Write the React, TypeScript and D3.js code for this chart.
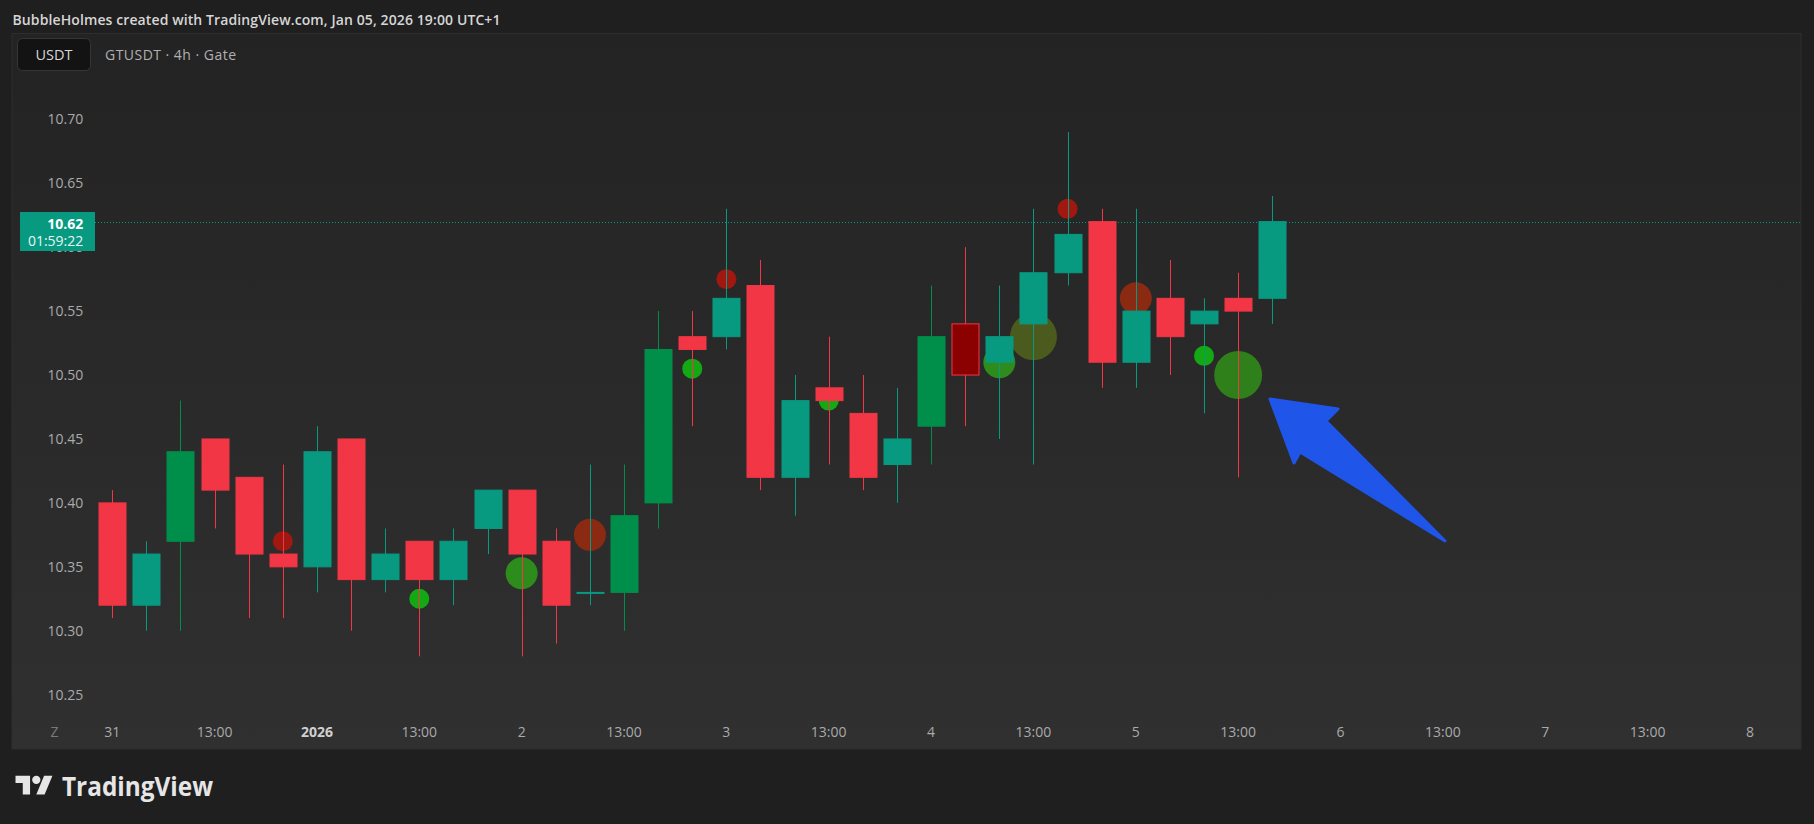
import { useRef, useEffect } from 'react';
import * as d3 from 'd3';

// GTUSDT 4h bars, Dec 31 01:00 .. Jan 5 17:00 (UTC+1)
const opens = [10.40, 10.32, 10.37, 10.45, 10.42, 10.36, 10.35, 10.45, 10.34, 10.37, 10.34, 10.38, 10.41, 10.37, 10.33, 10.33, 10.40, 10.53, 10.53, 10.57, 10.42, 10.49, 10.47, 10.43, 10.46, 10.54, 10.51, 10.54, 10.58, 10.62, 10.51, 10.56, 10.54, 10.56, 10.56];
const highs = [10.41, 10.37, 10.48, 10.45, 10.42, 10.43, 10.46, 10.45, 10.38, 10.37, 10.38, 10.41, 10.41, 10.38, 10.43, 10.43, 10.55, 10.55, 10.63, 10.59, 10.50, 10.53, 10.50, 10.49, 10.57, 10.60, 10.57, 10.63, 10.69, 10.63, 10.63, 10.59, 10.56, 10.58, 10.64];
const lows = [10.31, 10.30, 10.30, 10.38, 10.31, 10.31, 10.33, 10.30, 10.33, 10.28, 10.32, 10.36, 10.28, 10.29, 10.32, 10.30, 10.38, 10.46, 10.52, 10.41, 10.39, 10.43, 10.41, 10.40, 10.43, 10.46, 10.45, 10.43, 10.57, 10.49, 10.49, 10.50, 10.47, 10.42, 10.54];
const closes = [10.32, 10.36, 10.44, 10.41, 10.36, 10.35, 10.44, 10.34, 10.36, 10.34, 10.37, 10.41, 10.36, 10.32, 10.33, 10.39, 10.52, 10.52, 10.56, 10.42, 10.48, 10.48, 10.42, 10.45, 10.53, 10.50, 10.53, 10.58, 10.61, 10.51, 10.55, 10.53, 10.55, 10.55, 10.62];
// bars painted by the indicator as "strong"
const strongBars = [2, 15, 16, 24, 25];

// volume bubbles
const bubbleBars = [5, 9, 12, 14, 17, 18, 21, 26, 27, 28, 30, 32, 33];
const bubblePrices = [10.37, 10.325, 10.345, 10.375, 10.505, 10.575, 10.48, 10.51, 10.53, 10.63, 10.56, 10.515, 10.50];
const bubbleVolumes = [100, 100, 256, 256, 100, 100, 100, 256, 552, 100, 256, 100, 576];
const bubbleSides = ['sell', 'buy', 'buy', 'sell', 'buy', 'sell', 'buy', 'buy', 'mixed', 'sell', 'sell', 'buy', 'buy'];

const priceTicks = [10.25, 10.30, 10.35, 10.40, 10.45, 10.50, 10.55, 10.60, 10.65, 10.70];
const timeTickBars = [0, 3, 6, 9, 12, 15, 18, 21, 24, 27, 30, 33, 36, 39, 42, 45, 48];
const timeTickLabels = ['31', '13:00', '2026', '13:00', '2', '13:00', '3', '13:00', '4', '13:00', '5', '13:00', '6', '13:00', '7', '13:00', '8'];

const lastPrice = 10.62;
const countdown = '01:59:22';

const W = 1814;
const H = 824;
const FONT = "'Open Sans', 'Noto Sans', sans-serif";
const UP = '#089981';
const DOWN = '#f23645';

function bubbleColor(side: string, vol: number) {
  if (side === 'mixed') return '#4b5b1d';
  if (side === 'buy') return vol > 400 ? '#2f7f1a' : vol > 200 ? '#2d8c1c' : '#15a815';
  return vol > 200 ? '#8a2a12' : '#a0180f';
}

export default function App() {
  const svgRef = useRef<SVGSVGElement>(null);

  useEffect(() => {
    const svg = d3.select(svgRef.current);
    svg.selectAll('*').remove();

    const x = d3.scaleLinear().domain([0, 34]).range([112.2, 112.2 + 34 * 34.12]);
    const y = d3.scaleLinear().domain([10.25, 10.70]).range([694.7, 119.3]);
    const r = d3.scaleSqrt().domain([0, 576]).range([0, 24]);
    const bodyW = 27;

    const defs = svg.append('defs');
    const grad = defs.append('linearGradient').attr('id', 'panelGrad').attr('x1', 0).attr('y1', 0).attr('x2', 0).attr('y2', 1);
    grad.append('stop').attr('offset', '0%').attr('stop-color', '#232323');
    grad.append('stop').attr('offset', '100%').attr('stop-color', '#303030');

    svg.append('rect').attr('width', W).attr('height', H).attr('fill', '#1f1f1f');

    // header
    svg.append('text')
      .attr('x', 12.5).attr('y', 25)
      .attr('fill', '#d6d6d6').attr('font-size', '14px').attr('font-weight', 600)
      .attr('font-family', FONT)
      .attr('textLength', 488).attr('lengthAdjust', 'spacing')
      .text('BubbleHolmes created with TradingView.com, Jan 05, 2026 19:00 UTC+1');

    // chart panel
    svg.append('rect')
      .attr('x', 12).attr('y', 33.5).attr('width', 1789).attr('height', 715.5)
      .attr('fill', 'url(#panelGrad)').attr('stroke', '#2e2e2e');

    svg.append('rect')
      .attr('x', 17.5).attr('y', 38.5).attr('width', 73).attr('height', 32).attr('rx', 5)
      .attr('fill', '#131313').attr('stroke', '#363636');
    svg.append('text')
      .attr('x', 54).attr('y', 59.5).attr('text-anchor', 'middle')
      .attr('fill', '#d6d6d6').attr('font-size', '14.5px').attr('font-weight', 500)
      .attr('font-family', FONT).text('USDT');
    svg.append('text')
      .attr('x', 105).attr('y', 59.5)
      .attr('fill', '#b0b0b0').attr('font-size', '14px')
      .attr('font-family', FONT)
      .attr('textLength', 131).attr('lengthAdjust', 'spacing')
      .text('GTUSDT · 4h · Gate');

    // price axis (left)
    svg.append('g').selectAll('text')
      .data(priceTicks)
      .join('text')
      .attr('x', 83.3)
      .attr('y', (d) => y(d) + 5)
      .attr('text-anchor', 'end')
      .attr('fill', '#aaaaaa').attr('font-size', '14px')
      .attr('font-family', FONT)
      .text((d) => d.toFixed(2));

    // time axis
    svg.append('text')
      .attr('x', 54.5).attr('y', 737).attr('text-anchor', 'middle')
      .attr('fill', '#7a7a7a').attr('font-size', '14px').attr('font-family', FONT).text('Z');
    svg.append('g').selectAll('text')
      .data(timeTickBars)
      .join('text')
      .attr('x', (d) => x(d))
      .attr('y', 737)
      .attr('text-anchor', 'middle')
      .attr('fill', (_d, i) => (timeTickLabels[i] === '2026' ? '#d0d0d0' : '#aaaaaa'))
      .attr('font-weight', (_d, i) => (timeTickLabels[i] === '2026' ? 700 : 400))
      .attr('font-size', '14px')
      .attr('font-family', FONT)
      .text((_d, i) => timeTickLabels[i]);

    // last price line
    svg.append('line')
      .attr('x1', 95).attr('x2', 1801)
      .attr('y1', Math.round(y(lastPrice)) + 0.5).attr('y2', Math.round(y(lastPrice)) + 0.5)
      .attr('stroke', UP).attr('stroke-width', 1).attr('stroke-dasharray', '1,2');

    // bubbles (behind candles)
    svg.append('g').selectAll('circle')
      .data(bubbleBars)
      .join('circle')
      .attr('cx', (d) => x(d))
      .attr('cy', (_d, i) => y(bubblePrices[i]))
      .attr('r', (_d, i) => r(bubbleVolumes[i]))
      .attr('fill', (_d, i) => bubbleColor(bubbleSides[i], bubbleVolumes[i]));

    const bars = d3.range(opens.length);
    const color = (i: number) => {
      const up = closes[i] >= opens[i];
      if (strongBars.includes(i)) return up ? '#008f4b' : '#8b0000';
      return up ? UP : DOWN;
    };
    const edge = (i: number) => (closes[i] >= opens[i] ? color(i) : DOWN);

    const g = svg.append('g');
    g.selectAll('.wick')
      .data(bars)
      .join('line')
      .attr('class', 'wick')
      .attr('x1', (i) => Math.round(x(i)) + 0.5)
      .attr('x2', (i) => Math.round(x(i)) + 0.5)
      .attr('y1', (i) => y(highs[i]))
      .attr('y2', (i) => y(lows[i]))
      .attr('stroke', (i) => edge(i))
      .attr('stroke-width', 1);

    g.selectAll('.body')
      .data(bars)
      .join('rect')
      .attr('class', 'body')
      .attr('x', (i) => Math.round(x(i)) - bodyW / 2 + 0.5)
      .attr('y', (i) => y(Math.max(opens[i], closes[i])))
      .attr('width', bodyW)
      .attr('height', (i) => Math.max(1, y(Math.min(opens[i], closes[i])) - y(Math.max(opens[i], closes[i]))))
      .attr('fill', (i) => color(i))
      .attr('stroke', (i) => edge(i))
      .attr('stroke-width', 1);

    // last price tag
    svg.append('rect')
      .attr('x', 20).attr('y', 212).attr('width', 75).attr('height', 39)
      .attr('fill', UP);
    svg.append('text')
      .attr('x', 83.3).attr('y', 228.7).attr('text-anchor', 'end')
      .attr('fill', '#ffffff').attr('font-size', '14px').attr('font-weight', 700)
      .attr('font-family', FONT).text(lastPrice.toFixed(2));
    svg.append('text')
      .attr('x', 83.3).attr('y', 246).attr('text-anchor', 'end')
      .attr('fill', '#e8f5f2').attr('font-size', '14px')
      .attr('font-family', FONT).text(countdown);

    // annotation arrow
    svg.append('path')
      .attr('d', 'M1270,399 L1338,409 L1326,421 L1445,541 L1300,452 L1294,463 Z')
      .attr('fill', '#1f55e8').attr('stroke', '#1f55e8')
      .attr('stroke-width', 3).attr('stroke-linejoin', 'round');

    // TradingView watermark
    const logo = svg.append('g').attr('fill', '#e6e6e6');
    logo.append('g')
      .attr('transform', 'translate(15.5,771.5) scale(1.04)')
      .call((sel) => {
        sel.append('path').attr('d', 'M14 22H7V11H0V4h14v18z');
        sel.append('path').attr('d', 'M28 22h-8l7.5-18h8L28 22z');
        sel.append('circle').attr('cx', 20).attr('cy', 8).attr('r', 4);
      });
    logo.append('text')
      .attr('x', 62).attr('y', 795.5)
      .attr('font-size', '27px').attr('font-weight', 700)
      .attr('font-family', FONT)
      .attr('textLength', 151).attr('lengthAdjust', 'spacingAndGlyphs')
      .text('TradingView');
  }, []);

  return (
    <svg
      ref={svgRef}
      width={W}
      height={H}
      viewBox={`0 0 ${W} ${H}`}
      style={{ position: 'fixed', left: 0, top: 0, display: 'block' }}
    />
  );
}
